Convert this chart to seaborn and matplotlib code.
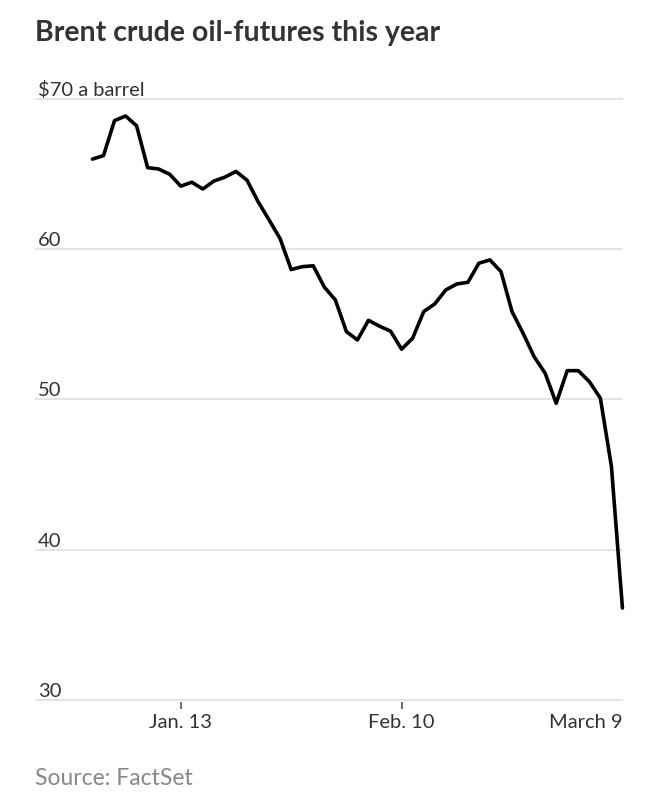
import matplotlib
matplotlib.use('Agg')
import matplotlib.pyplot as plt
import seaborn as sns
import pandas as pd

# Datos: cierres de Brent por día hábil (31 dic 2019 - 9 mar 2020)
fechas = ['2019-12-31',
          '2020-01-02', '2020-01-03', '2020-01-06', '2020-01-07', '2020-01-08',
          '2020-01-09', '2020-01-10', '2020-01-13', '2020-01-14', '2020-01-15',
          '2020-01-16', '2020-01-17', '2020-01-20', '2020-01-21', '2020-01-22',
          '2020-01-23', '2020-01-24', '2020-01-27', '2020-01-28', '2020-01-29',
          '2020-01-30', '2020-01-31', '2020-02-03', '2020-02-04', '2020-02-05',
          '2020-02-06', '2020-02-07', '2020-02-10', '2020-02-11', '2020-02-12',
          '2020-02-13', '2020-02-14', '2020-02-17', '2020-02-18', '2020-02-19',
          '2020-02-20', '2020-02-21', '2020-02-24', '2020-02-25', '2020-02-26',
          '2020-02-27', '2020-02-28', '2020-03-02', '2020-03-03', '2020-03-04',
          '2020-03-05', '2020-03-06', '2020-03-09']
precios = [66.00,
           66.23, 68.56, 68.87, 68.22, 65.43,
           65.34, 64.99, 64.20, 64.46, 64.01,
           64.54, 64.80, 65.18, 64.60, 63.17,
           61.95, 60.70, 58.65, 58.84, 58.90,
           57.48, 56.63, 54.52, 53.96, 55.27,
           54.88, 54.55, 53.35, 54.08, 55.85,
           56.36, 57.29, 57.69, 57.80, 59.07,
           59.29, 58.51, 55.85, 54.41, 52.85,
           51.75, 49.75, 51.92, 51.92, 51.19,
           50.09, 45.55, 36.12]

y_ticks = [30, 40, 50, 60, 70]
y_labels = ['30', '40', '50', '60', '$70 a barrel']
x_tick_fechas = ['2020-01-13', '2020-02-10', '2020-03-09']
x_labels = ['Jan. 13', 'Feb. 10', 'March 9']

df = pd.DataFrame({'fecha': fechas, 'precio': precios})
df['dia'] = range(len(df))

sns.set_theme(style='white')
plt.rcParams['font.family'] = ['Lato', 'DejaVu Sans']

fig = plt.figure(figsize=(6.59, 8), dpi=100)
ax = fig.add_axes([35 / 659, (800 - 701.5) / 800, 588 / 659, 604 / 800])

sns.lineplot(data=df, x='dia', y='precio', ax=ax, color='black',
             linewidth=2.6, clip_on=False)

ax.set_xlim(-5.2, 48.05)
ax.set_ylim(29.9, 70.1)

# Rejilla horizontal
ax.set_yticks(y_ticks)
ax.set_yticklabels(y_labels)
ax.grid(axis='y', color='#dddddd', linewidth=1.1)
ax.grid(axis='x', visible=False)
ax.set_axisbelow(True)
for s in ax.spines.values():
    s.set_visible(False)

ax.tick_params(axis='y', length=0, pad=-2, labelsize=14.5, labelcolor='#333333')
for lab in ax.get_yticklabels():
    lab.set_horizontalalignment('left')
    lab.set_verticalalignment('bottom')

# Eje X con marcas solo en las dos primeras fechas
posiciones = [fechas.index(f) for f in x_tick_fechas]
ax.set_xticks(posiciones)
ax.set_xticklabels(x_labels)
ax.tick_params(axis='x', bottom=True, length=5, width=1.2, color='#555555',
               pad=4, labelsize=14.5, labelcolor='#333333')
ax.xaxis.get_major_ticks()[-1].tick1line.set_visible(False)
ax.get_xticklabels()[-1].set_horizontalalignment('right')

ax.set_xlabel('')
ax.set_ylabel('')

fig.text(35 / 659, 1 - 41 / 800, 'Brent crude oil-futures this year',
         fontsize=20.5, fontweight='bold', color='#333333', va='baseline')
fig.text(35 / 659, 1 - 785 / 800, 'Source: FactSet',
         fontsize=16.5, color='#888888', va='baseline')

plt.savefig('out.png', dpi=100, facecolor='white')
plt.close()
